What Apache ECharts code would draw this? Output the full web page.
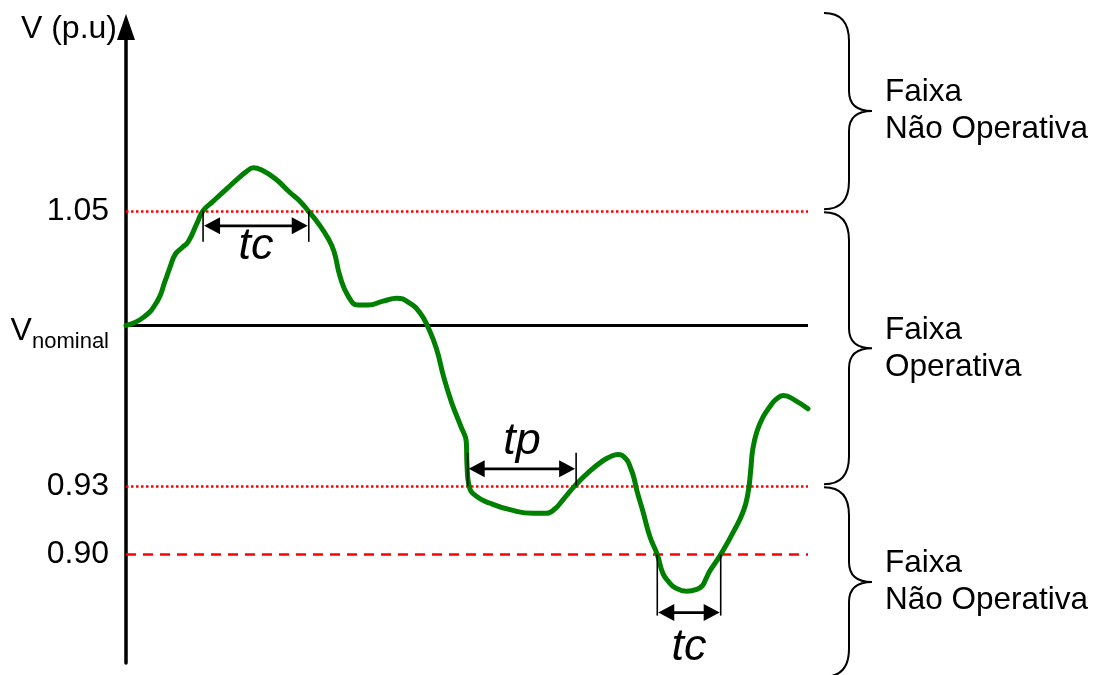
<!DOCTYPE html>
<html>
<head>
<meta charset="utf-8">
<script src="https://cdn.jsdelivr.net/npm/echarts@6/dist/echarts.min.js"></script>
<style>
  html, body { margin: 0; padding: 0; background: #ffffff; }
  #chart { width: 1097px; height: 675px; }
</style>
</head>
<body>
<div id="chart"></div>
<script>
// Voltage trajectory: time (arbitrary units) and voltage (p.u.)
const timeValues = [
  0, 2.5, 4.6, 5.7, 6.5, 7.2, 8.2, 9.1, 10.4, 11.3,
  12.8, 14.8, 16.7, 17.6, 18.7, 19.9, 21.9, 24.0, 25.5,
  26.7, 28.2, 29.6, 30.5, 31.4, 32.6, 34.0, 35.5, 37.7, 39.7,
  41.6, 43.1, 44.3, 45.5, 46.6, 47.8, 49.1, 49.9, 50.0, 50.3,
  51.3, 53.4, 56.3, 59.7, 61.6, 62.9, 64.1, 65.8, 68.0, 69.9,
  71.0, 72.1, 73.3, 74.0, 74.5, 74.9, 75.8, 76.8, 77.9,
  78.7, 79.5, 80.5, 82.2, 83.7, 84.5, 85.0, 85.6, 86.4,
  87.2, 89.0, 90.5, 91.2, 91.6, 91.9, 92.5, 93.4, 94.4, 95.3,
  96.4, 98.1, 100
];
const voltageValues = [
  1.0000, 1.0034, 1.0106, 1.0191, 1.0258, 1.0309, 1.0339, 1.0364, 1.0445, 1.0500,
  1.0542, 1.0597, 1.0648, 1.0670, 1.0688, 1.0678, 1.0640, 1.0581, 1.0542,
  1.0500, 1.0445, 1.0381, 1.0322, 1.0212, 1.0127, 1.0089, 1.0089, 1.0106, 1.0119,
  1.0097, 1.0055, 0.9991, 0.9900, 0.9773, 0.9659, 0.9559, 0.9491, 0.9391, 0.9300,
  0.9256, 0.9224, 0.9196, 0.9180, 0.9180, 0.9200, 0.9240, 0.9300, 0.9364, 0.9409,
  0.9427, 0.9437, 0.9418, 0.9377, 0.9332, 0.9280, 0.9188, 0.9080, 0.9000,
  0.8920, 0.8884, 0.8856, 0.8840, 0.8848, 0.8864, 0.8892, 0.8928, 0.8964,
  0.9000, 0.9096, 0.9188, 0.9268, 0.9368, 0.9459, 0.9536, 0.9600, 0.9645, 0.9677,
  0.9694, 0.9673, 0.9636
];

// Reference voltage levels and their tick labels
const levelValues = [1.05, 1.00, 0.93, 0.90];
const tickLabels = ['1.05', 'V_nominal', '0.93', '0.90'];

// Duration spans measured along the thresholds (tc = critical time, tp = permitted time)
const spanNames = ['tc', 'tp', 'tc'];
const spanStart = [11.3, 50.1, 77.9];
const spanEnd = [26.8, 66.0, 87.2];
const spanLevel = [1.05, 0.93, 0.90];

// Voltage bands marked with braces
const bandNames = ['Faixa\nNão Operativa', 'Faixa\nOperativa', 'Faixa\nNão Operativa'];
const bandUpper = [1.137, 1.05, 0.93];
const bandLower = [1.05, 0.93, 0.846];

// ---- styles ----
const FONT = '"Liberation Sans", Arial, Helvetica, sans-serif';
const levelStyles = [
  { color: '#ff0000', width: 2.5, type: [2.5, 2.5] },
  { color: '#000000', width: 3, type: 'solid' },
  { color: '#ff0000', width: 2.5, type: [2.5, 2.5] },
  { color: '#ff0000', width: 2.5, type: [10, 7] }
];
// pixel offsets from the threshold line: end of the bracket ticks, arrow, text
const spanLayout = [
  { tick: 31, arrow: 15, text: 36 },
  { tick: -33, arrow: -17, text: -44 },
  { tick: 61, arrow: 58, text: 93 }
];

function renderSpan(params, api) {
  const i = params.dataIndex;
  const lay = spanLayout[i];
  const a = api.coord([api.value(0), api.value(2)]);
  const b = api.coord([api.value(1), api.value(2)]);
  const y0 = a[1];
  const ya = y0 + lay.arrow;
  const yt = y0 + lay.tick;
  const head = 17, half = 8.5;
  const ink = '#000000';
  return {
    type: 'group',
    children: [
      { type: 'line', shape: { x1: a[0], y1: y0, x2: a[0], y2: yt }, style: { stroke: ink, lineWidth: 1.6 } },
      { type: 'line', shape: { x1: b[0], y1: y0, x2: b[0], y2: yt }, style: { stroke: ink, lineWidth: 1.6 } },
      { type: 'line', shape: { x1: a[0] + head - 2, y1: ya, x2: b[0] - head + 2, y2: ya }, style: { stroke: ink, lineWidth: 2.8 } },
      { type: 'polygon', shape: { points: [[a[0] + 1, ya], [a[0] + head, ya - half], [a[0] + head, ya + half]] }, style: { fill: ink } },
      { type: 'polygon', shape: { points: [[b[0] - 1, ya], [b[0] - head, ya - half], [b[0] - head, ya + half]] }, style: { fill: ink } },
      {
        type: 'text',
        style: {
          text: spanNames[i], x: (a[0] + b[0]) / 2, y: y0 + lay.text,
          font: 'italic 45px ' + FONT, fill: ink, align: 'center', verticalAlign: 'middle'
        }
      }
    ]
  };
}

function renderBand(params, api) {
  const i = params.dataIndex;
  const cs = params.coordSys;
  const right = cs.x + cs.width;
  const top = api.coord([0, api.value(0)])[1] + 1.5;
  const bottom = api.coord([0, api.value(1)])[1] - 1.5;
  const mid = (top + bottom) / 2;
  const xe = right + 16, xs = right + 41, xt = right + 64;
  const rEnd = 28, rTip = 20;
  const d = 'M' + xe + ' ' + top +
    ' Q' + xs + ' ' + top + ' ' + xs + ' ' + (top + rEnd) +
    ' L' + xs + ' ' + (mid - rTip) +
    ' Q' + xs + ' ' + mid + ' ' + xt + ' ' + mid +
    ' Q' + xs + ' ' + mid + ' ' + xs + ' ' + (mid + rTip) +
    ' L' + xs + ' ' + (bottom - rEnd) +
    ' Q' + xs + ' ' + bottom + ' ' + xe + ' ' + bottom;
  return {
    type: 'group',
    children: [
      { type: 'path', shape: { pathData: d }, style: { stroke: '#000000', lineWidth: 2, fill: 'none' } },
      {
        type: 'text',
        style: {
          text: bandNames[i], x: right + 77, y: mid,
          font: '31.5px ' + FONT, fill: '#000000', align: 'left', verticalAlign: 'middle', lineHeight: 37
        }
      }
    ]
  };
}

const chart = echarts.init(document.getElementById('chart'), null, { renderer: 'canvas' });

chart.setOption({
  animation: false,
  backgroundColor: '#ffffff',
  grid: { left: 126, right: 289, top: 27, bottom: 12, containLabel: false },
  xAxis: {
    type: 'value', min: 0, max: 100, show: false
  },
  yAxis: {
    type: 'value',
    min: 0.8527,
    max: 1.1302,
    name: 'V (p.u)',
    nameLocation: 'end',
    nameGap: -2,
    nameTextStyle: {
      fontSize: 32, fontFamily: FONT, color: '#000000',
      align: 'right', verticalAlign: 'middle', padding: [0, 9, 0, 0]
    },
    axisLine: {
      show: true,
      symbol: ['none', 'triangle'],
      symbolSize: [18, 26],
      lineStyle: { color: '#000000', width: 3.5 }
    },
    axisTick: { show: false },
    splitLine: { show: false },
    axisLabel: {
      customValues: levelValues,
      margin: 17,
      color: '#000000',
      fontSize: 32,
      fontFamily: FONT,
      formatter: function (value) {
        let idx = 0;
        levelValues.forEach(function (lv, k) { if (Math.abs(lv - value) < 1e-6) idx = k; });
        const lbl = tickLabels[idx];
        if (lbl.indexOf('_') >= 0) {
          const parts = lbl.split('_');
          return '{v|' + parts[0] + '}{s|' + parts[1] + '}';
        }
        return lbl;
      },
      rich: {
        v: { fontSize: 32, fontFamily: FONT, color: '#000000', padding: [11, 0, 0, 0] },
        s: { fontSize: 22, fontFamily: FONT, color: '#000000', padding: [34, 0, 0, 0] }
      }
    }
  },
  series: [
    {
      name: 'levels',
      type: 'line',
      data: [],
      z: 1,
      silent: true,
      markLine: {
        silent: true,
        symbol: ['none', 'none'],
        label: { show: false },
        emphasis: { disabled: true },
        data: levelValues.map(function (v, k) {
          return { yAxis: v, lineStyle: levelStyles[k] };
        })
      }
    },
    {
      name: 'V',
      type: 'line',
      z: 10,
      smooth: 0.5,
      showSymbol: false,
      symbol: 'none',
      lineStyle: { color: '#008000', width: 5, cap: 'round', join: 'round' },
      data: timeValues.map(function (t, k) { return [t, voltageValues[k]]; })
    },
    {
      name: 'spans',
      type: 'custom',
      z: 11,
      clip: false,
      silent: true,
      renderItem: renderSpan,
      encode: { x: [0, 1], y: 2 },
      data: spanStart.map(function (s, k) { return [s, spanEnd[k], spanLevel[k]]; })
    },
    {
      name: 'bands',
      type: 'custom',
      z: 11,
      clip: false,
      silent: true,
      renderItem: renderBand,
      encode: { y: [0, 1] },
      data: bandUpper.map(function (u, k) { return [u, bandLower[k]]; })
    }
  ]
});
</script>
</body>
</html>
